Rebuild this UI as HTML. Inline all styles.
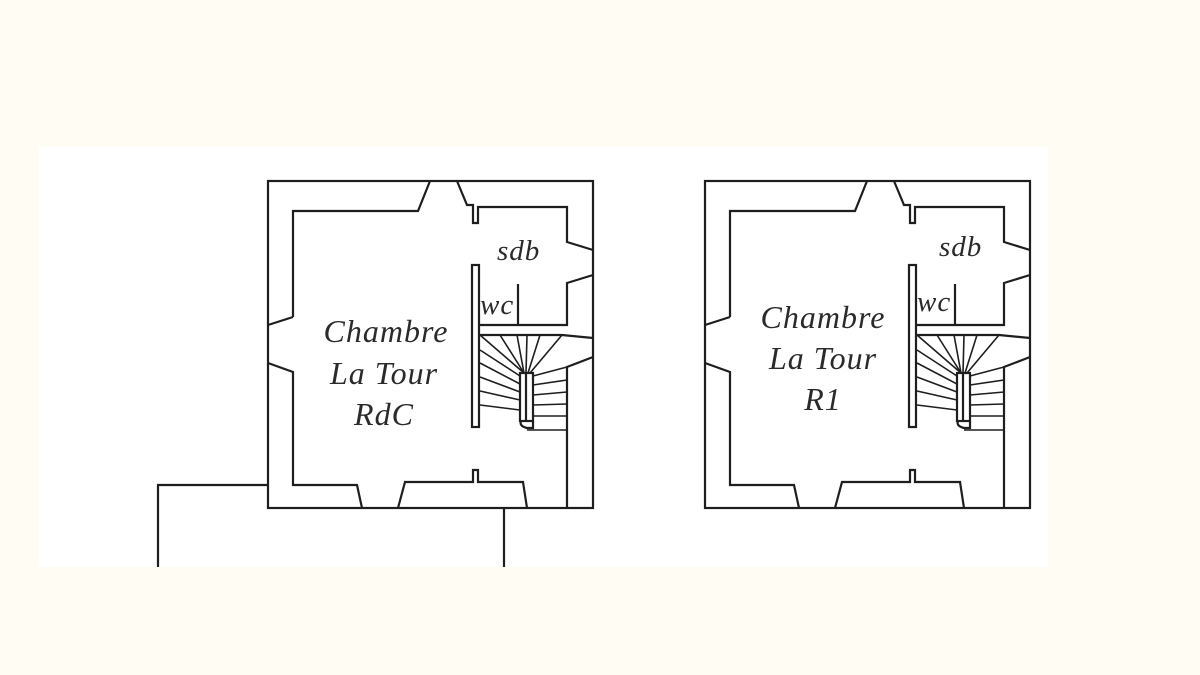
<!DOCTYPE html>
<html><head><meta charset="utf-8"><style>
html,body{margin:0;padding:0;background:#fffcf4;}
svg{display:block;}
text{font-family:"Liberation Serif",serif;font-style:italic;fill:#2a2a2a;}
</style></head><body>
<svg width="1200" height="675" viewBox="0 0 1200 675" xmlns="http://www.w3.org/2000/svg">
<rect x="0" y="0" width="1200" height="675" fill="#fffcf4"/>
<rect x="39" y="147" width="1009" height="420" fill="#ffffff"/>
<defs>
<g id="plan" fill="none" stroke="#1e1e1e" stroke-width="2.2" stroke-linejoin="miter">
  <rect x="268" y="181" width="325" height="327"/>
  <polyline points="293,317 293,211 418,211 430,181"/>
  <polyline points="457,181 467,205 473,205 473,223 478,223 478,207 567,207 567,242 593,250"/>
  <polyline points="593,275 567,283 567,325 480,325"/>
  <line x1="518" y1="284" x2="518" y2="325"/>
  <rect x="472" y="265" width="7" height="162"/>
  <polyline points="293,317 268,325"/>
  <polyline points="268,363 293,372 293,485 357,485 362,508"/>
  <polyline points="398,508 405,482 473,482 473,470 478,470 478,482 523,482 527,508"/>
  <polyline points="480,335 562,335 593,338"/>
  <polyline points="593,357 567,367 567,508"/>
  <rect x="520" y="373" width="13" height="48"/>
  <line x1="526" y1="373" x2="526" y2="421"/>
  <path d="M533,421 L533,428 L527,428 Q519,426 521,421"/>
  <g stroke-width="1.6">
    <line x1="524" y1="373" x2="480" y2="335"/>
    <line x1="524" y1="373" x2="500" y2="335"/>
    <line x1="524" y1="373" x2="517" y2="335"/>
    <line x1="526" y1="373" x2="527" y2="335"/>
    <line x1="528" y1="373" x2="540" y2="335"/>
    <line x1="530" y1="373" x2="562" y2="335"/>
    <line x1="533" y1="376" x2="567" y2="367"/>
    <line x1="520" y1="376" x2="480" y2="350"/>
    <line x1="520" y1="384" x2="480" y2="363"/>
    <line x1="520" y1="392" x2="480" y2="377"/>
    <line x1="520" y1="400" x2="480" y2="391"/>
    <line x1="520" y1="410" x2="480" y2="405"/>
    <line x1="533" y1="385" x2="567" y2="380"/>
    <line x1="533" y1="395" x2="567" y2="392"/>
    <line x1="533" y1="405" x2="567" y2="404"/>
    <line x1="533" y1="416" x2="567" y2="416"/>
    <line x1="527" y1="430" x2="567" y2="430"/>
  </g>
</g>
</defs>
<use href="#plan"/>
<use href="#plan" transform="translate(437,0)"/>
<g fill="none" stroke="#1e1e1e" stroke-width="2.2">
  <polyline points="268,485 158,485 158,567"/>
  <line x1="504" y1="508" x2="504" y2="567"/>
</g>
<g font-size="32" text-anchor="middle" letter-spacing="1">
  <text x="386" y="342">Chambre</text>
  <text x="384" y="384">La Tour</text>
  <text x="384" y="425">RdC</text>
  <text x="823" y="328">Chambre</text>
  <text x="823" y="369">La Tour</text>
  <text x="823" y="410">R1</text>
</g>
<g font-size="29" letter-spacing="1">
  <text x="497" y="260">sdb</text>
  <text x="939" y="256">sdb</text>
  <text x="480" y="314">wc</text>
  <text x="917" y="311">wc</text>
</g>
</svg>
</body></html>
